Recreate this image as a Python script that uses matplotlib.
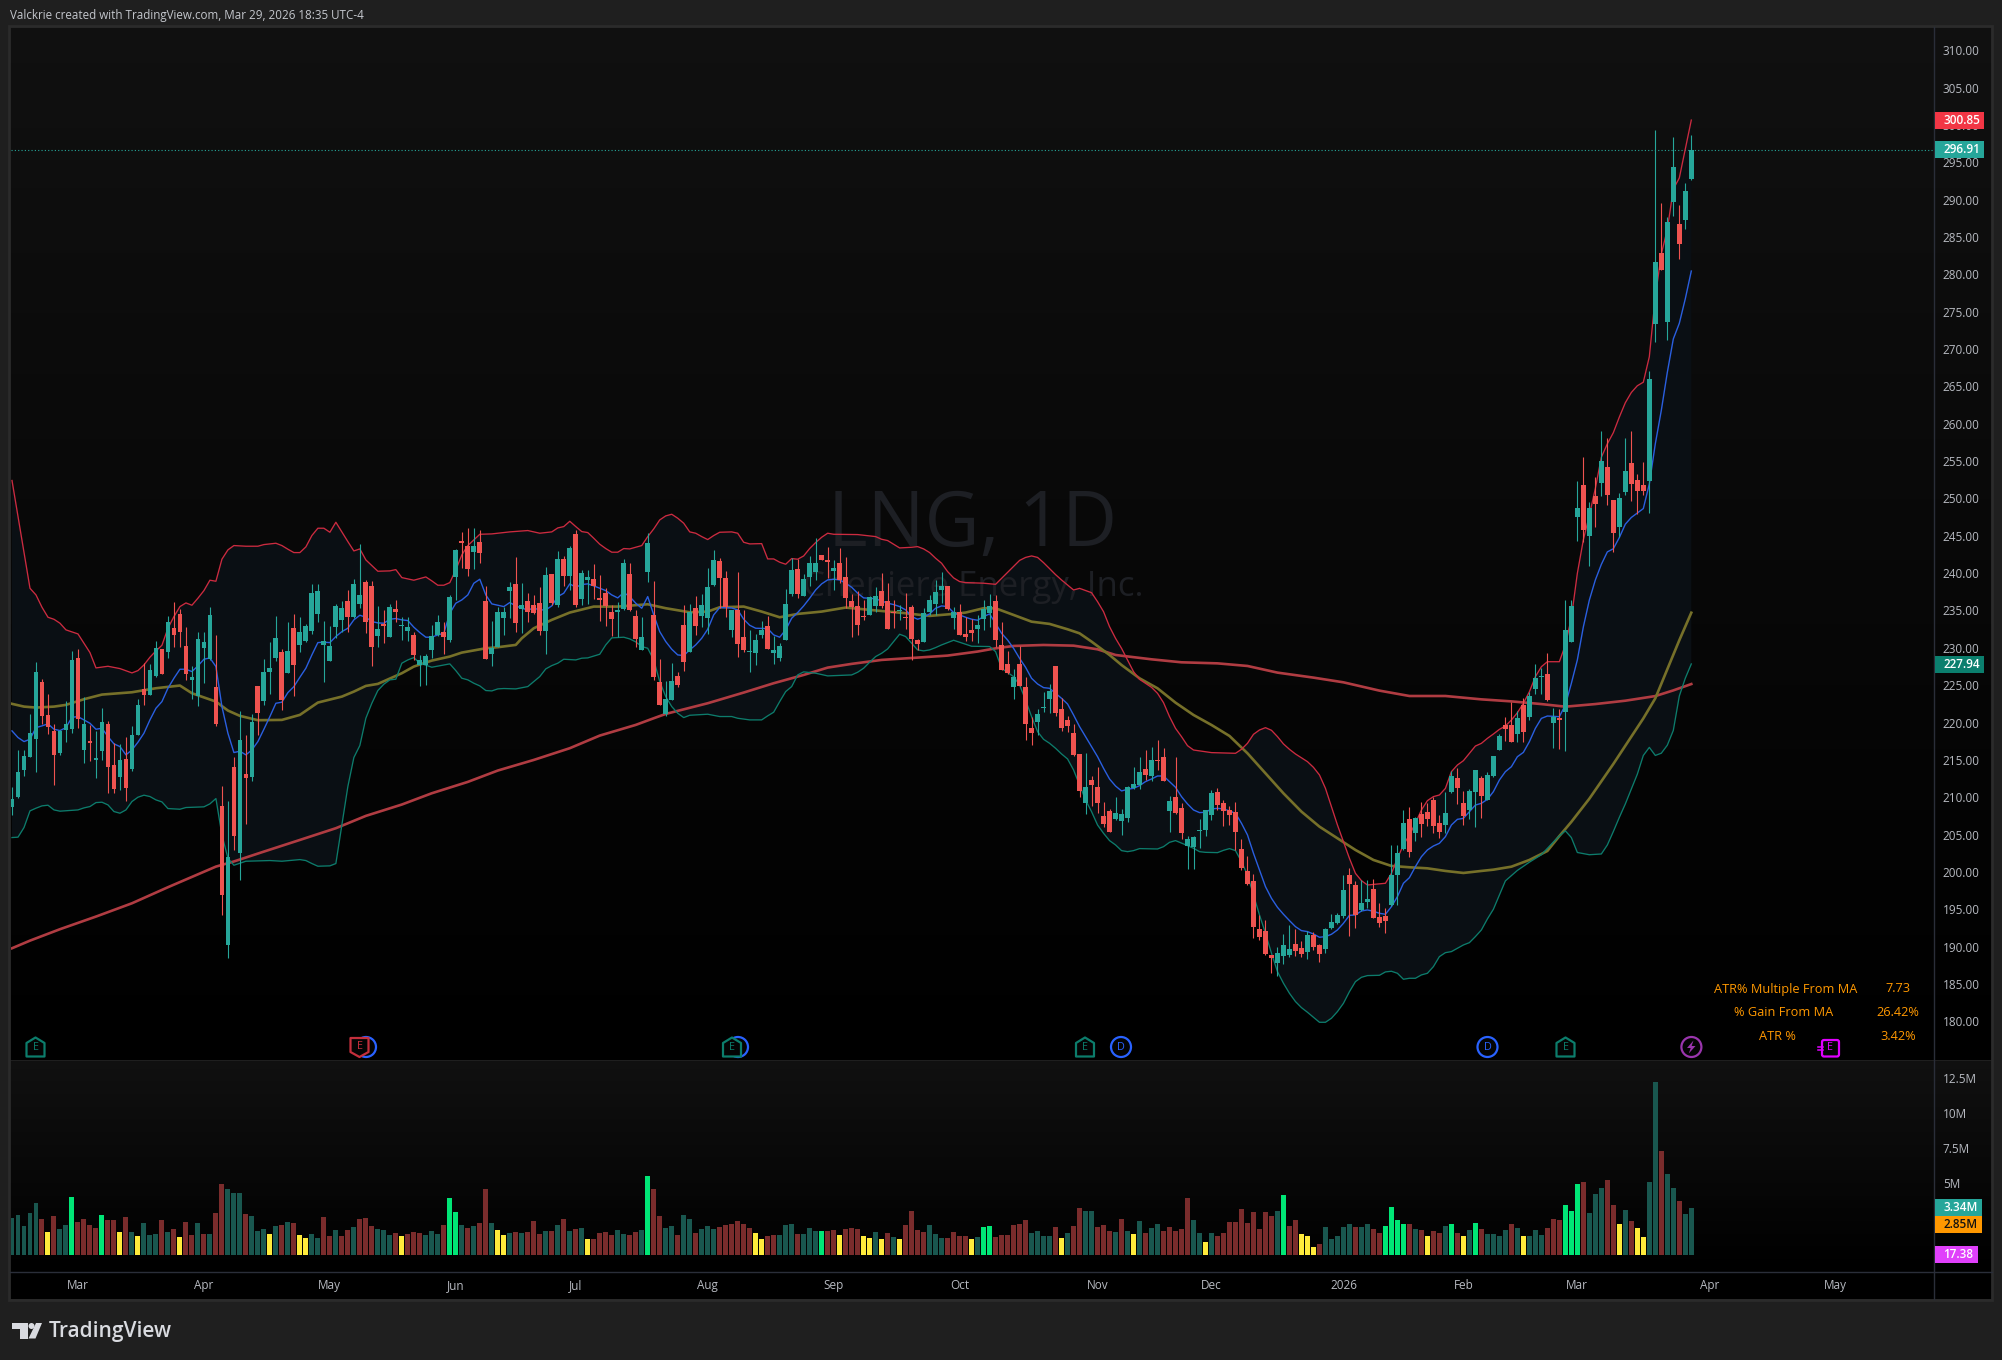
import numpy as np
import matplotlib
matplotlib.use("Agg")
import matplotlib.pyplot as plt
from matplotlib.patches import Rectangle, Polygon, Circle, FancyBboxPatch
from matplotlib.transforms import blended_transform_factory

# ---------- candle data (price units), one row per ten sessions ----------
direction = ("GGGGGRRRGG" "GRGRGGRRGR" "GGRGGRGRRR" "GGGGRRGRGR" "GRGGGRGRGG" "GGGGGGRGGR" "RGRGRGGRGG"
             "GGRGGRRGRR" "GGGGRGRRRG" "RGRGRGGRRR" "RGGRRGGRRG" "GRRGRGGGRR" "GRRGGGRGGG" "GRGGGRRGRR"
             "RRRGGRRRGR" "RRGGGGRGRR" "RGGGRRRGRR" "RGGGRRRRRG" "RRRRGGGGGR" "GRRGRRGGGG" "GRRRRRRRRR"
             "RGGGRRGRRG" "GGGRRGGRRR" "GGGRGRRRRG" "GRRGGRGGGR" "RGRGGGRGRG" "GGRGRGRRGG" "RRRGGRGGRGG")
body_top = [
209.93,213.59,215.73,218.77,226.98,225.64,221.22,219.08,219.08,220.02,
228.58,228.85,220.02,217.74,215.46,220.28,220.02,214.53,215.20,215.33,
218.54,222.56,224.70,227.24,230.19,230.05,233.67,232.87,234.74,230.46,
226.31,231.39,230.99,234.61,224.97,209.04,202.21,214.26,217.87,213.32,
220.28,225.10,226.98,227.51,231.53,229.65,229.79,232.87,232.33,233.13,
237.55,237.82,231.13,230.46,235.81,235.54,236.48,238.76,237.28,239.02,
238.49,232.73,233.40,235.68,235.41,233.22,233.00,231.93,228.58,229.12,
231.79,233.67,232.33,237.02,243.31,244.51,243.84,243.84,244.38,236.48,
230.14,235.01,235.01,238.35,238.76,235.94,236.48,235.94,236.21,239.96,
240.09,242.10,242.10,243.57,245.45,240.23,239.69,239.43,236.88,237.55,
235.01,235.28,241.57,240.09,234.47,231.66,244.24,234.61,225.64,223.36,
225.77,226.44,233.27,235.01,235.54,235.94,238.35,241.97,241.83,239.56,
235.28,235.28,231.66,229.79,231.26,232.60,233.13,229.92,230.46,236.08,
240.63,240.76,239.43,241.57,241.57,242.64,241.97,240.90,241.57,239.69,
236.48,235.81,234.47,237.02,237.15,237.82,236.48,235.01,235.28,234.34,
235.68,231.26,234.87,236.61,237.68,238.49,238.49,235.01,235.01,232.06,
232.60,233.27,235.41,235.81,236.48,230.58,228.04,226.30,228.04,224.96,
219.47,221.34,222.28,224.42,227.77,222.01,220.54,218.80,215.99,211.57,
212.51,211.57,207.69,208.36,208.09,207.96,211.57,211.97,213.58,213.98,
215.19,215.19,215.59,209.70,210.23,208.76,204.61,204.88,205.82,208.49,
210.77,210.90,209.43,208.49,208.22,203.27,200.33,198.99,192.56,192.30,
189.08,189.35,190.42,189.89,190.55,190.02,191.76,191.76,190.42,192.56,
193.50,194.44,197.78,199.79,198.45,196.04,196.58,197.92,194.17,194.30,
199.79,202.74,206.75,207.29,207.42,207.96,208.22,209.83,206.75,208.09,
213.04,212.78,209.43,211.04,213.85,212.77,213.17,215.71,218.39,219.86,
219.86,220.80,222.54,223.74,226.15,226.42,226.69,220.93,220.80,232.52,
235.81,248.90,252.01,248.90,250.52,255.18,254.40,249.98,250.22,253.86,
254.94,252.67,252.01,266.17,281.83,283.03,287.21,294.56,286.91,291.34,296.91]
body_bot = [
208.95,210.29,213.86,215.64,218.05,221.09,219.57,215.87,216.09,219.21,
219.39,220.68,216.53,217.47,215.24,216.40,214.26,211.31,212.92,211.45,
213.99,218.54,223.90,223.90,226.44,226.71,229.65,231.93,232.33,226.71,
225.91,223.76,230.19,228.72,220.02,197.12,190.43,205.02,202.75,212.79,
212.92,221.49,223.09,226.98,228.85,223.23,226.84,227.91,230.59,231.13,
232.46,234.74,230.59,228.45,233.00,233.94,234.34,234.34,236.08,233.67,
230.32,231.79,233.13,231.66,235.01,233.13,232.46,229.25,227.91,227.91,
229.92,231.93,231.66,231.26,239.69,244.24,240.76,243.04,242.91,228.72,
229.39,230.32,234.20,237.82,233.54,235.41,235.01,234.87,232.46,232.46,
236.21,235.94,239.83,239.83,235.94,236.75,239.29,238.49,236.61,235.81,
234.07,235.01,235.41,235.28,231.39,229.92,240.36,226.31,222.56,221.35,
223.23,225.24,228.31,229.65,233.13,234.47,234.20,238.62,239.56,235.68,
232.60,230.72,229.92,229.65,229.52,231.93,230.05,229.52,228.85,231.26,
237.42,237.42,237.15,239.69,240.36,241.97,241.70,240.50,239.29,236.88,
235.68,233.27,234.34,234.61,235.81,235.81,232.73,234.87,235.14,234.20,
231.39,230.72,230.99,235.01,236.08,237.95,235.41,234.20,231.93,231.66,
232.20,232.73,234.07,234.87,231.26,227.23,226.83,224.96,225.09,220.00,
218.80,220.27,222.15,223.35,221.48,219.47,219.74,215.85,211.04,209.43,
211.84,209.43,206.62,205.55,207.29,207.02,207.42,211.44,211.84,213.18,
213.04,215.05,212.37,208.36,208.09,205.41,203.67,203.54,205.68,205.82,
207.82,209.16,208.36,207.82,205.55,200.73,198.59,192.83,191.49,189.22,
188.68,188.01,188.95,189.08,189.62,189.22,189.48,190.15,189.22,189.89,
192.70,193.37,194.30,198.59,194.44,195.11,196.18,194.04,193.37,193.63,
195.78,199.79,203.27,202.87,205.41,206.62,207.29,206.35,205.55,206.48,
210.90,211.44,207.69,208.49,210.90,210.36,209.82,213.03,216.52,219.33,
217.59,218.66,218.92,220.93,224.68,226.33,223.21,220.13,220.53,221.65,
230.97,247.71,245.97,245.14,249.44,252.31,250.63,245.55,246.39,251.11,
252.19,251.17,251.23,252.55,273.53,280.76,273.82,289.90,284.22,287.45,293.01]
wick_top = [
211.63,216.53,216.53,221.35,228.27,226.04,224.03,220.02,219.21,223.05,
229.74,230.01,223.59,219.88,219.12,222.11,220.42,217.43,217.34,218.27,
219.75,223.32,228.14,228.05,231.13,230.05,234.47,236.35,235.45,233.00,
227.78,232.33,232.33,235.68,231.93,211.72,209.71,215.64,221.76,218.54,
221.35,225.10,228.72,230.99,234.47,230.05,233.67,234.74,234.34,233.40,
238.76,238.76,233.80,233.13,236.08,236.48,237.95,239.38,244.11,239.29,
239.16,235.81,235.28,236.08,236.61,234.34,234.34,232.33,229.25,229.39,
233.27,234.61,233.67,237.28,243.44,245.72,246.25,246.25,245.98,238.49,
233.80,235.72,235.72,239.02,242.37,238.89,237.55,237.28,238.31,241.03,
240.09,243.17,242.50,243.84,245.98,240.63,240.63,241.43,239.96,238.22,
235.94,236.35,242.10,241.57,235.28,234.34,245.58,239.16,228.72,225.77,
228.18,226.98,235.94,236.08,237.15,237.42,240.90,243.31,242.24,240.50,
235.28,240.36,235.28,232.60,232.06,233.80,234.47,231.79,230.86,238.09,
242.24,242.10,240.09,242.50,244.91,242.64,243.71,241.97,243.57,242.37,
237.42,237.82,236.61,237.15,238.35,240.23,238.89,236.61,235.94,237.55,
235.94,231.39,235.54,237.28,239.29,240.36,238.49,235.68,236.08,234.34,
234.07,234.61,236.61,237.42,237.28,233.66,229.78,227.37,230.45,226.30,
220.94,222.01,224.29,225.36,227.77,223.48,221.07,220.00,215.99,216.12,
213.04,214.25,209.56,208.63,210.23,208.63,211.70,214.25,215.59,216.52,
216.93,217.86,216.79,210.37,215.59,209.43,205.01,205.01,207.29,208.49,
211.17,211.44,209.83,209.03,209.56,204.61,202.33,199.92,194.44,193.77,
189.08,190.15,191.89,193.10,192.56,190.96,192.30,192.16,190.55,192.70,
194.57,194.70,199.79,200.73,198.99,199.12,199.12,199.26,196.04,195.37,
203.81,203.81,208.49,208.89,207.55,209.56,209.43,210.23,207.82,210.90,
213.71,214.11,211.04,211.30,213.85,213.03,213.57,215.71,218.66,220.93,
222.94,221.74,223.48,224.28,228.03,227.49,229.50,222.14,222.00,236.59,
236.59,252.55,255.71,249.74,253.08,259.24,258.29,249.98,250.99,258.29,
259.24,253.50,255.06,267.25,299.53,289.72,287.93,298.57,289.48,292.41,298.87]
wick_bot = [
207.83,210.07,213.05,215.55,213.59,220.02,218.68,211.85,215.87,217.61,
218.86,219.48,214.75,215.11,212.79,215.20,210.82,210.78,211.18,209.71,
213.77,218.54,222.56,223.90,226.35,226.71,228.81,230.32,230.32,225.91,
223.36,222.43,225.46,228.58,219.75,194.45,188.69,203.15,199.13,206.63,
212.39,218.54,222.56,224.03,228.45,221.89,226.84,223.76,229.65,230.99,
232.06,233.67,225.64,228.45,231.48,232.33,232.33,234.20,235.50,232.15,
227.78,230.37,230.86,231.66,233.67,231.26,231.13,228.58,225.10,225.24,
228.85,231.79,229.39,230.99,236.61,240.85,239.83,240.76,241.57,228.72,
227.78,230.32,231.93,234.16,232.33,232.20,233.67,234.74,231.93,229.39,
235.94,235.63,238.49,237.95,235.68,235.94,236.08,236.75,233.80,233.13,
231.79,231.66,235.28,235.14,230.32,229.92,239.02,225.91,222.56,221.09,
223.23,224.97,227.11,229.65,231.93,232.96,232.06,238.49,235.54,234.34,
231.66,228.98,229.65,226.98,227.91,231.53,230.05,228.05,228.45,231.26,
237.15,236.88,237.15,238.49,239.29,241.97,239.56,237.95,238.85,235.54,
231.66,231.93,233.94,234.61,235.01,235.54,232.73,232.87,233.94,232.73,
228.58,229.92,230.99,234.61,234.61,236.17,235.28,232.73,231.93,231.13,
231.13,230.86,232.60,233.00,230.37,227.23,226.70,223.35,225.09,217.86,
217.19,218.53,221.61,221.48,221.07,219.07,218.93,215.72,210.23,207.96,
209.03,208.09,206.22,205.55,207.15,205.15,206.89,211.30,211.30,212.51,
212.37,213.85,212.37,205.55,207.96,204.61,200.60,200.60,203.41,205.01,
207.15,208.49,206.35,206.48,203.14,200.46,198.45,191.36,191.09,189.08,
186.67,186.27,187.88,188.81,188.95,188.81,188.55,189.75,188.15,189.35,
192.56,193.23,194.04,191.63,192.70,194.97,195.37,194.04,192.83,192.03,
195.64,195.78,203.14,202.20,204.34,204.88,206.35,205.41,204.74,205.41,
210.77,209.30,206.48,207.29,206.22,207.41,209.82,212.90,216.52,217.72,
217.59,217.59,217.59,220.53,224.01,224.01,223.07,216.78,216.65,216.39,
230.97,244.48,244.36,241.13,246.33,250.52,249.26,243.04,245.08,250.63,
249.92,248.18,250.63,248.24,271.14,280.76,271.43,287.99,282.31,286.26,292.83]

# ---------- indicator lines: bar number and price ----------
upper_x = [0,3,4,5,6,7,8,9,11,12,13,14,16,18,20,21,22,23,24,25,26,27,28,29,30,31,32,33,34,35,36,37,39,41,42,44,45,46,47,48,49,50,51,52,53,54,55,56,57,58,59,60,61,63,64,65,67,69,70,71,72,73,74,75,76,77,78,80,
           83,86,88,90,91,92,93,94,95,96,97,98,99,100,101,102,103,105,106,107,108,109,110,111,112,113,114,115,116,117,118,120,121,122,123,125,126,127,128,129,130,131,132,133,134,135,136,137,141,144,145,146,147,148,150,151,152,153,154,155,156,157,158,159,162,164,
           165,166,167,168,169,170,171,172,173,174,175,177,178,180,181,182,183,184,185,186,187,188,190,191,192,193,194,195,196,197,200,204,205,206,207,208,209,210,211,212,213,214,216,217,218,219,220,221,222,223,224,225,226,229,230,231,232,233,234,235,236,237,238,
           239,240,241,242,243,244,245,246,247,248,249,250,251,252,253,254,255,256,258,259,260,261,262,263,264,265,266,267,268,269,270,271,272,273,274,275,276,277,278,279,280]
upper_y = [252.6,238.17,237.28,235.63,234.29,234.02,233.49,232.60,232.06,230.81,229.56,227.51,227.73,227.42,226.84,227.15,227.91,228.94,229.79,230.54,232.82,234.38,235.72,236.21,235.90,236.84,237.86,239.25,239.11,242.06,243.31,243.89,243.80,243.80,244.02,244.20,243.89,243.40,242.95,242.95,243.71,245.23,246.21,246.21,245.67,247.01,245.72,244.42,243.17,243.44,241.97,241.21,240.45,240.50,240.67,239.60,239.25,239.69,239.16,238.58,238.58,238.93,240.63,242.64,243.89,244.65,245.40,245.45,
           245.72,245.90,245.54,245.72,246.25,246.43,247.14,246.43,245.76,245.63,244.87,244.07,243.49,243.00,243.00,243.49,243.44,243.89,245.09,246.12,247.32,247.86,248.08,247.55,246.88,245.72,245.54,245.09,244.69,245.23,245.67,245.72,245.54,244.33,244.11,244.15,242.10,242.10,241.66,241.39,242.15,242.06,242.50,243.49,244.29,245.00,245.54,245.40,245.36,245.09,244.73,244.56,244.07,243.57,243.66,243.75,243.44,242.95,242.19,241.52,240.41,239.56,239.07,238.93,238.85,238.70,
           239.5,240.3,241.1,241.9,242.3,242.5,242.3,241.6,240.8,240.0,239.28,237.94,238.16,237.58,236.38,235.04,233.03,231.47,230.13,228.57,227.01,225.98,224.91,224.11,222.86,220.99,219.42,218.31,217.10,216.52,216.17,216.08,216.61,217.42,218.62,219.20,219.51,219.16,218.31,217.33,216.61,215.99,214.96,214.20,213.18,211.39,208.94,206.48,204.25,202.02,200.01,199.03,198.45,198.68,200.01,202.02,203.81,205.15,206.71,208.49,209.74,210.28,210.50,
           211.38,213.62,214.51,215.09,216.07,217.05,217.41,218.08,218.66,219.28,219.73,220.53,221.51,222.76,224.32,226.33,227.67,228.34,228.34,230.57,234.20,240.17,244.66,247.94,251.53,255.71,257.51,259.00,261.09,263.01,264.38,265.28,265.76,269.16,277.20,282.90,286.20,291.60,293.10,296.95,300.85]
lower_x = [0,1,2,3,4,5,6,7,8,11,12,13,14,15,16,17,18,19,20,21,22,23,24,25,26,28,29,32,33,34,35,36,37,38,39,43,45,48,49,50,51,53,54,55,56,57,58,59,60,61,62,63,64,65,66,67,68,70,73,74,75,76,77,78,79,80,81,
           82,84,86,87,88,89,90,91,92,94,95,96,98,99,100,102,103,104,105,106,107,108,109,110,111,112,113,116,118,120,121,123,125,126,127,128,129,130,131,132,134,136,140,141,142,143,144,145,146,147,148,149,150,151,152,153,154,155,156,157,158,159,160,163,
           164,165,167,168,169,170,171,172,173,174,175,176,177,178,179,180,181,182,183,184,185,186,187,188,191,192,193,194,196,197,198,199,201,202,203,204,205,206,207,208,209,210,211,212,213,214,215,216,217,218,219,220,221,222,223,224,225,226,228,229,230,231,232,233,234,235,236,237,238,239,240,241,242,243,244,245,
           246,247,249,251,253,255,257,258,259,260,261,263,265,266,267,268,269,271,272,273,274,275,276,277,278,279,280]
lower_y = [204.80,204.85,206.14,208.37,208.73,209.04,209.13,208.50,208.33,208.50,208.77,208.95,209.48,209.53,209.17,208.28,208.06,208.50,209.62,210.20,210.47,210.29,209.84,209.57,208.68,208.59,208.82,208.91,209.31,210.02,205.16,202.03,201.09,201.36,201.63,201.72,201.63,201.85,201.72,201.32,200.96,201.01,201.32,206.50,211.63,215.51,217.12,220.77,222.78,224.48,225.33,225.91,226.00,228.14,228.58,228.89,228.14,227.60,228.05,227.15,226.13,225.91,225.46,225.10,224.48,224.43,224.70,
           224.75,224.70,225.01,225.68,226.35,227.38,227.82,228.14,228.67,228.58,228.81,228.85,229.34,230.59,231.53,231.62,231.39,230.99,230.37,230.14,228.58,225.68,223.67,222.34,221.44,220.86,221.17,221.31,221.00,221.00,220.77,220.55,220.55,221.09,221.58,223.00,224.34,225.01,226.57,226.98,226.80,226.44,226.57,226.93,227.47,228.27,229.03,229.47,230.05,231.04,232.02,231.71,230.81,229.92,229.79,229.92,230.23,230.59,230.90,231.21,230.95,230.68,230.41,230.37,
           229.69,227.46,226.34,225.22,223.22,220.99,218.98,217.95,217.42,216.75,215.99,215.32,213.85,211.84,209.83,208.27,206.48,205.37,204.39,203.81,203.05,202.91,203.05,203.32,203.27,203.58,204.16,204.39,203.72,203.36,202.91,202.82,202.78,203.09,203.32,203.05,201.58,199.79,197.11,194.44,191.98,189.31,186.85,185.29,183.95,182.84,182.03,181.41,180.74,180.07,180.07,180.61,181.50,182.61,184.17,185.51,186.09,186.32,186.36,186.81,186.90,186.63,185.83,185.96,185.96,186.41,186.63,187.52,188.86,189.39,189.53,189.97,190.42,190.73,191.54,192.43,
           193.9,195.2,199.0,200.4,201.5,202.5,204.2,205.0,205.7,204.8,202.8,202.5,202.6,203.8,205.6,207.5,209.3,213.28,215.79,216.87,215.79,216.09,217.16,219.14,223.74,226.13,228.04]
blue_x = list(range(0,119))+[120,121,122,123,124,126]+list(range(127,281))
blue_y = [219.08,218.19,217.65,217.96,219.52,219.75,220.02,219.30,219.12,219.52,220.90,220.99,220.55,220.10,219.30,219.43,218.32,217.34,216.98,215.87,216.53,217.56,218.77,220.55,222.11,223.00,224.79,226.13,227.33,227.33,227.02,227.78,228.67,228.85,227.69,222.34,218.77,216.18,216.36,215.87,216.53,217.65,219.30,221.00,222.78,222.92,224.21,225.01,226.26,227.47,229.25,230.90,230.95,230.90,231.71,232.37,232.82,233.94,234.56,234.29,233.71,233.54,233.49,234.03,234.12,233.94,233.85,232.96,232.24,231.62,231.62,231.93,232.15,234.83,236.17,236.61,237.28,238.84,239.38,237.28,236.08,235.90,
          235.72,236.26,235.81,235.50,235.28,235.50,235.28,235.28,235.81,237.06,237.51,238.76,238.31,238.67,238.76,238.49,238.18,237.86,237.28,236.88,237.60,237.06,236.17,235.50,237.06,234.61,232.37,231.04,230.01,229.25,229.16,229.92,230.59,231.48,232.69,234.61,235.59,
          235.54,235.28,234.03,233.22,232.82,232.78,231.93,231.62,232.60,234.16,234.92,235.81,236.84,237.95,238.76,239.29,239.38,239.29,238.85,238.31,237.51,236.88,236.84,236.75,236.48,236.17,235.99,235.72,235.28,234.38,234.03,234.29,234.74,235.50,235.81,235.72,234.92,234.61,234.29,234.03,233.89,234.38,234.74,233.48,
          232.14,231.25,230.13,228.79,227.59,226.12,225.36,224.87,224.78,224.11,223.44,222.68,221.21,219.65,218.31,216.97,215.63,214.07,212.64,211.70,211.04,211.26,211.39,211.75,212.29,212.64,213.04,213.04,212.29,211.53,210.28,209.30,208.49,208.14,208.18,208.63,208.71,208.63,208.36,208.05,206.71,205.15,202.69,200.46,198.23,196.67,195.46,194.53,193.68,192.87,192.34,192.21,191.89,191.45,191.54,191.85,192.43,193.32,194.39,194.44,194.97,195.11,194.93,194.66,194.53,195.55,196.89,198.68,199.43,200.91,202.24,203.14,203.67,204.03,204.92,206.48,
          207.24,207.37,208.26,209.15,209.38,209.91,210.94,212.50,213.62,214.28,215.62,216.20,217.63,219.42,220.75,221.07,221.02,220.98,222.54,225.44,228.58,233.00,236.59,239.28,241.37,243.04,243.46,244.96,246.75,247.65,248.24,248.84,252.13,257.51,261.99,267.07,271.55,273.64,276.93,280.64]
ma50_x = [0,2,4,7,9,12,15,20,24,28,30,34,36,38,41,45,48,51,55,57,59,61,65,67,70,73,75,79,81,84,85,87,90,93,97,101,106,109,113,116,118,122,125,128,131,135,139,143,149,153,157,159,162,164,167,170,173,176,178,180,183,185,188,191,194,197,200,203,206,209,212,215,218,221,224,227,230,233,236,239,242,245,247,250,253,256,258,260,263,267,272,274,276,278,280]
ma50_y = [222.7,222.33,222.2,222.33,222.56,223.32,223.94,224.25,224.79,225.15,224.12,223.0,221.8,221.09,220.51,220.55,221.22,222.87,223.67,224.34,225.10,225.37,226.80,227.69,228.49,229.03,229.56,230.14,230.28,230.59,231.48,232.82,233.94,234.92,235.72,235.72,236.03,235.50,234.96,235.05,235.63,235.72,235.05,234.29,234.74,235.05,235.59,235.28,234.83,234.47,234.74,234.92,235.50,235.49,234.6,233.7,233.4,232.68,232.14,231.03,229.24,227.9,226.12,224.78,222.86,221.21,219.87,218.4,216.08,213.4,210.72,208.27,206.26,204.70,203.14,201.80,201.0,200.82,200.68,200.33,200.06,200.33,200.5,200.9,201.8,203.0,205.0,206.9,210.0,214.65,220.75,223.44,227.33,231.21,234.9]
ma200_x = [0,3,8,14,20,26,34,37,42,48,54,59,65,70,76,81,87,93,98,104,107,109,116,122,127,132,136,140,145,151,156,161,164,167,172,177,181,184,190,195,201,206,211,217,222,228,233,239,245,250,255,259,264,269,274,277,280]
ma200_y = [189.98,191.0,192.53,194.22,196.0,198.15,200.91,201.6,202.92,204.48,206.05,207.70,209.22,210.73,212.25,213.77,215.19,216.76,218.45,219.88,220.77,221.35,222.78,224.21,225.46,226.57,227.55,228.05,228.58,228.89,229.16,229.70,230.13,230.45,230.58,230.49,230.0,229.24,228.66,228.26,228.12,227.77,226.88,226.21,225.58,224.47,223.75,223.75,223.3,223.03,222.67,222.32,222.67,223.12,223.74,224.5,225.35]

# ---------- volume in millions ----------
vol_kind = ("TTTTTRYRTT" "LRRRRLRRYR" "TYTTTRTRYR" "RTRTRRTTTR" "TTTYTRTRYY" "TTRRTRRTRR" "RTTTRYRRRT"
            "TTRLLTRTRR" "TYYTRTRRRT" "RTRTRTYRRR" "RTTRRTLRRT" "TRTTRTTTRR" "RRRRYYRRTT" "TRTTTLRRYR"
            "RRYYTYRTYR" "RRRTTTRRRR" "YTLLRRRRRR" "TTTTRYTRRT" "TRRRTRTYTR" "TTRRRRRTTY" "TRRRRRRRRR"
            "RTLRRYYYRT" "TTTTRTTRRL" "LLLRTRYRRT" "LRYTLRTTTT" "RTYTTTRRRL" "LLRTTTRRYT" "RYYTTRTTRTT")
volume = [
2.63,2.84,2.06,2.98,3.69,2.56,1.63,2.77,1.85,2.13,
4.12,2.34,2.56,2.13,1.92,2.84,2.49,2.49,1.63,2.70,
1.63,1.35,2.27,1.42,1.49,2.49,1.63,1.85,1.28,2.34,
1.42,2.27,1.49,1.49,2.98,5.04,4.69,4.40,4.40,2.91,
2.77,1.70,1.85,1.49,2.06,2.13,2.34,2.27,1.42,1.21,
1.49,1.21,2.70,1.35,1.78,1.35,1.78,1.99,2.56,2.63,
2.06,1.85,1.78,1.42,1.56,1.35,1.49,1.63,1.56,1.42,
1.70,1.49,2.13,4.05,3.05,2.13,1.92,2.06,2.27,4.69,
2.27,1.78,1.42,1.56,1.63,1.56,1.63,2.41,1.49,1.70,
1.70,2.13,2.56,1.70,1.85,1.92,1.14,1.14,1.56,1.63,
1.42,1.78,1.49,1.42,1.63,1.78,5.61,4.69,2.77,1.92,
2.06,1.42,2.84,2.56,1.56,1.85,2.06,1.85,1.99,2.13,
2.20,2.41,2.20,1.92,1.56,1.14,1.35,1.42,1.42,2.13,
2.20,1.49,1.49,1.92,1.70,1.70,1.70,1.78,1.42,1.85,
1.92,1.85,1.35,1.21,1.63,1.14,1.56,1.28,1.14,2.13,
3.13,1.78,1.63,2.13,1.49,1.21,1.21,1.63,1.35,1.35,
1.14,1.28,1.99,2.06,1.28,1.42,1.42,2.13,2.20,2.49,
1.56,1.70,1.35,1.35,1.99,1.21,1.56,2.06,3.34,3.13,
3.13,1.99,2.13,1.70,1.63,2.56,1.70,1.49,2.41,1.56,
1.92,2.20,1.70,1.99,1.70,1.85,4.05,2.49,1.56,0.92,
1.56,1.35,1.56,2.34,2.34,3.27,2.27,3.05,1.85,3.05,
2.77,3.13,4.26,2.06,2.49,1.49,1.35,0.57,0.78,1.99,
1.14,1.35,1.99,2.20,1.99,1.99,2.20,1.85,1.56,2.06,
3.41,2.49,2.20,2.20,1.85,1.78,1.35,1.70,1.56,2.06,
2.20,1.56,1.35,1.78,2.27,1.85,1.49,1.49,1.35,1.78,
2.20,1.92,1.35,1.35,1.78,1.42,1.92,2.56,2.49,3.55,
3.13,5.04,5.18,2.98,4.33,4.76,5.33,3.55,2.20,3.20,
2.41,1.92,1.28,5.18,12.29,7.39,5.75,4.76,3.84,2.91,3.34]

# ---------- axis labels ----------
price_ticks = list(range(180, 315, 5))
vol_ticks = [5, 7.5, 10, 12.5]
vol_tick_labels = ["5M", "7.5M", "10M", "12.5M"]
month_pos = [11, 32, 53, 74, 94, 116, 137, 158, 181, 200, 222, 242, 261, 283, 304]
month_labels = ["Mar", "Apr", "May", "Jun", "Jul", "Aug", "Sep", "Oct", "Nov", "Dec", "2026", "Feb", "Mar", "Apr", "May"]
last_close = 296.91
upper_last = 300.85
lower_last = 227.94
table_labels = ["ATR% Multiple From MA", "% Gain From MA", "ATR %"]
table_values = ["7.73", "26.42%", "3.42%"]

# ---------- style ----------
W, H = 2002, 1360
FONT = "Open Sans"
plt.rcParams["font.family"] = [FONT, "DejaVu Sans"]
GREEN, RED = "#26a69a", "#ef5350"
TICK = "#b7bac1"
KIND = {"T": "#19574f", "R": "#7a2c2c", "Y": "#ffeb3b", "L": "#00e676"}
FRAME = "#2a2e39"
LABEL_SIZE = 8.45

fig = plt.figure(figsize=(W / 100, H / 100), dpi=100, facecolor="#1f1f1f")

def add_px_axes(x0, y0, x1, y1, **kw):
    return fig.add_axes([x0 / W, 1 - y1 / H, (x1 - x0) / W, (y1 - y0) / H], **kw)

bg = add_px_axes(0, 0, W, H, zorder=0)
bg.set_xlim(0, W); bg.set_ylim(H, 0); bg.axis("off")
shade = np.linspace(0, 1, 256).reshape(-1, 1)
grad = np.dstack([(1 - shade) * 0.065] * 3)
bg.imshow(grad, extent=(10, 1992, 1060, 27), aspect="auto", zorder=1)
bg.imshow(grad, extent=(10, 1992, 1272, 1061), aspect="auto", zorder=1)
bg.add_patch(Rectangle((10, 1272), 1982, 27, fc="#000000", ec="none", zorder=1))
bg.set_xlim(0, W); bg.set_ylim(H, 0)
bg.add_patch(Rectangle((9, 26), 1983, 1274, fc="none", ec="#2b2b2b", lw=2, zorder=2))
bg.plot([1934, 1934], [27, 1299], color=FRAME, lw=1, zorder=2)
bg.plot([10, 1992], [1272, 1272], color=FRAME, lw=1, zorder=2)

X_LEFT, X_RIGHT = (10.5 - 12) / 5.9975, (1934 - 12) / 5.9975
ax = add_px_axes(10.5, 27, 1934, 1060, zorder=2)
ax.set_xlim(X_LEFT, X_RIGHT); ax.set_ylim(175.02, 313.31)
vax = add_px_axes(10.5, 1061, 1934, 1272, zorder=2)
vax.set_xlim(X_LEFT, X_RIGHT); vax.set_ylim(-1.21, 13.78)
for a in (ax, vax):
    a.patch.set_visible(False)
    for s in a.spines.values():
        s.set_visible(False)
    a.yaxis.tick_right()

ax.set_xticks([])
ax.set_yticks(price_ticks)
ax.set_yticklabels([f"{p:.2f}" for p in price_ticks])
ax.tick_params(axis="y", length=0, pad=6.3, labelsize=LABEL_SIZE, labelcolor=TICK)
vax.set_yticks(vol_ticks)
vax.set_yticklabels(vol_tick_labels)
vax.set_xticks(month_pos)
vax.set_xticklabels(month_labels)
vax.tick_params(axis="y", length=0, pad=6.3, labelsize=LABEL_SIZE, labelcolor=TICK)
vax.tick_params(axis="x", length=0, pad=10, labelsize=LABEL_SIZE, labelcolor=TICK)
for t in ax.get_yticklabels() + vax.get_yticklabels() + vax.get_xticklabels():
    t.set_verticalalignment("center")

# Bollinger fill under the watermark, then indicator lines under the candles
ax.fill(np.r_[upper_x, lower_x[::-1]], np.r_[upper_y, lower_y[::-1]], fc="#0a0f14", ec="none", zorder=0.3)
ax.text(973, 526, "LNG, 1D", transform=bg.transData, ha="center", va="center", fontsize=54.5, color="#1d1f24", zorder=0.6)
ax.text(973, 587, "Cheniere Energy, Inc.", transform=bg.transData, ha="center", va="center", fontsize=25, color="#1d1f24", zorder=0.6)
ax.plot(ma200_x, ma200_y, color="#b03c42", lw=1.9, zorder=1.5)
ax.plot(ma50_x, ma50_y, color="#767029", lw=1.9, zorder=1.5)
ax.plot(upper_x, upper_y, color="#cc2b40", lw=0.95, zorder=1.6)
ax.plot(lower_x, lower_y, color="#0d7c6c", lw=0.95, zorder=1.6)
ax.plot(blue_x, blue_y, color="#2a5fe0", lw=1.0, zorder=1.7)

# candles
xs = np.arange(len(body_top))
up = np.array([d == "G" for d in direction])
cols = np.where(up, GREEN, RED)
ax.vlines(xs, wick_bot, wick_top, colors=cols, lw=0.8, zorder=3)
ax.bar(xs, np.array(body_top) - np.array(body_bot), bottom=body_bot, width=0.8, color=cols, lw=0, zorder=3.2)

# last price line
ax.axhline(last_close, color=GREEN, lw=0.8, ls=(0, (1, 2)), zorder=1)

# volume
vax.bar(np.arange(len(volume)), volume, width=0.83, color=[KIND[k] for k in vol_kind], lw=0, zorder=3)

# ---------- overlay: tags, table, events, header and logo ----------
ov = add_px_axes(0, 0, W, H, zorder=5)
ov.set_xlim(0, W); ov.set_ylim(H, 0); ov.axis("off")

price_tf = blended_transform_factory(ov.transData, ax.transData)
TAG_H = 17 / 7.47   # 17 pixels in price units
def price_tag(value, fc):
    ov.add_patch(Rectangle((1935, value - TAG_H / 2), 49, TAG_H, transform=price_tf, fc=fc, ec="none", zorder=5))
    ov.text(1943, value, f"{value:.2f}", transform=price_tf, color="white", fontsize=LABEL_SIZE,
            fontweight="semibold", ha="left", va="center", zorder=6)
price_tag(upper_last, "#f23645")
price_tag(last_close, GREEN)
price_tag(lower_last, "#0b7f6e")

def box_tag(ytop, yh, width, text, fc, tc):
    ov.add_patch(Rectangle((1935, ytop), width, yh, fc=fc, ec="none", zorder=5))
    ov.text(1943, ytop + yh / 2, text, color=tc, fontsize=LABEL_SIZE, fontweight="semibold", ha="left", va="center", zorder=6)
box_tag(1199, 17, 47, "3.34M", GREEN, "white")
box_tag(1216, 17, 47, "2.85M", "#ff9800", "#111111")
box_tag(1246, 17, 43, "17.38", "#e040fb", "white")

ORANGE = "#ff9800"
for lbl, val, lx, ly in zip(table_labels, table_values, [1786, 1784, 1777], [989, 1013, 1037]):
    ov.text(lx, ly, lbl, color=ORANGE, fontsize=9.2, ha="center", va="center")
    ov.text(1898, ly, val, color=ORANGE, fontsize=9.2, ha="center", va="center")

def disc(cx, letter, color):
    ov.add_patch(Circle((cx, 1047), 10, fc="#040404", ec=color, lw=1.6, zorder=2))
    if letter:
        ov.text(cx, 1047, letter, color=color, fontsize=7.8, ha="center", va="center", zorder=3)

def earn_up(cx):
    c = "#0c7d6c"
    pts = [(cx - 9, 1043), (cx, 1037.5), (cx + 9, 1043), (cx + 9, 1056.5), (cx - 9, 1056.5)]
    ov.add_patch(Polygon(pts, closed=True, fc="#040404", ec=c, lw=1.6, joinstyle="round", zorder=4))
    ov.text(cx, 1048, "E", color=c, fontsize=7.8, ha="center", va="center", zorder=5)

def earn_down(cx):
    c = "#c42f3c"
    pts = [(cx - 9, 1038), (cx + 9, 1038), (cx + 9, 1052), (cx, 1057), (cx - 9, 1052)]
    ov.add_patch(Polygon(pts, closed=True, fc="#040404", ec=c, lw=1.6, joinstyle="round", zorder=4))
    ov.text(cx, 1046.5, "E", color=c, fontsize=7.8, ha="center", va="center", zorder=5)

disc(366, "", "#2962ff"); earn_down(359.5)
disc(738, "", "#2962ff"); earn_up(732)
disc(1121, "D", "#2962ff"); disc(1487.5, "D", "#2962ff")
earn_up(35.5); earn_up(1085); earn_up(1565.5)
ov.add_patch(Circle((1691.4, 1047), 10, fc="#040404", ec="#9a35ad", lw=1.6, zorder=2))
ov.add_patch(Polygon([(1693.5, 1040.5), (1687, 1048), (1690.7, 1048), (1688.8, 1053.5), (1695.5, 1046), (1691.6, 1046)],
                     closed=True, fc="#9a35ad", ec="none", zorder=3))
ME = "#e000ff"
ov.add_patch(FancyBboxPatch((1822, 1040), 17, 16.5, boxstyle="round,pad=0,rounding_size=2", fc="#040404", ec=ME, lw=1.6, zorder=2))
ov.text(1829.8, 1048, "E", color=ME, fontsize=7.8, ha="center", va="center", zorder=3)
ov.plot([1817.5, 1823], [1046.5, 1046.5], color=ME, lw=1.1, zorder=3)
ov.plot([1817.5, 1823], [1050, 1050], color=ME, lw=1.1, zorder=3)

ov.text(10, 15, "Valckrie created with TradingView.com, Mar 29, 2026 18:35 UTC-4", color="#c3c6cc", fontsize=8.35, ha="left", va="center")

LOGO = "#d9dbe0"
ov.add_patch(Polygon([(12, 1323), (27.5, 1323), (27.5, 1338.5), (20, 1338.5), (20, 1329), (12, 1329)], closed=True, fc=LOGO, ec="none"))
ov.add_patch(Circle((31.5, 1326), 3, fc=LOGO, ec="none"))
ov.add_patch(Polygon([(36, 1323), (42, 1323), (35.5, 1338.5), (28.5, 1338.5)], closed=True, fc=LOGO, ec="none"))
ov.text(49, 1332, "TradingView", color=LOGO, fontsize=15, fontweight="semibold", ha="left", va="center")

assert len(direction) == len(body_top) == len(body_bot) == len(wick_top) == len(wick_bot) == 281
assert len(vol_kind) == len(volume) == 281
assert len(upper_x) == len(upper_y) and len(lower_x) == len(lower_y)
assert len(blue_x) == len(blue_y) and len(ma50_x) == len(ma50_y) and len(ma200_x) == len(ma200_y)

fig.savefig("out.png", dpi=100, facecolor=fig.get_facecolor())
